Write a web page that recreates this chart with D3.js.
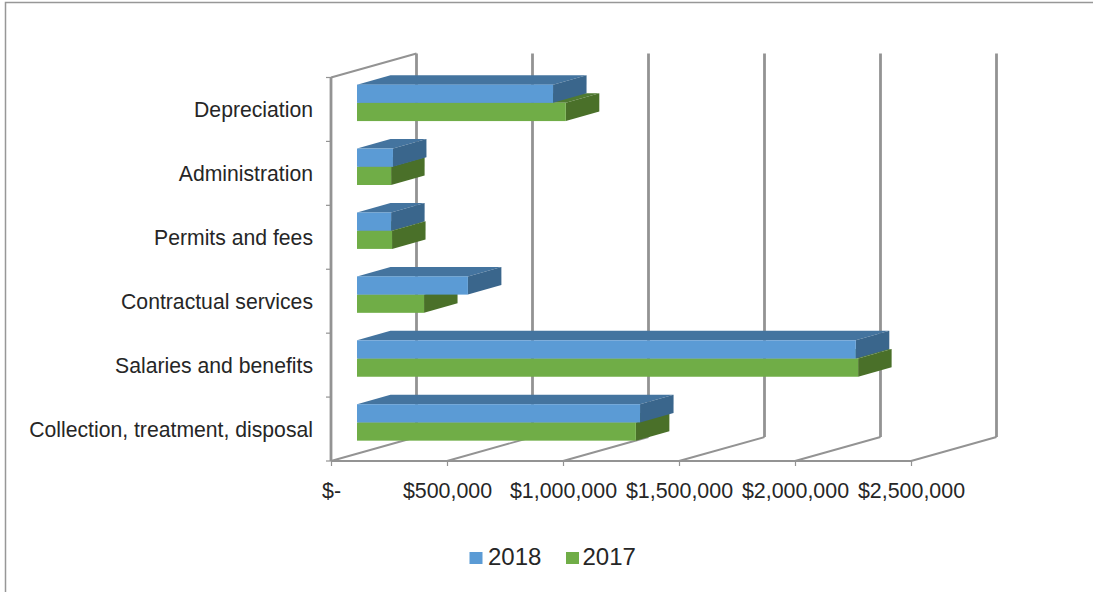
<!DOCTYPE html>
<html><head><meta charset="utf-8">
<script src="https://cdn.jsdelivr.net/npm/d3@7"></script>
<style>html,body{margin:0;padding:0;background:#fff}svg{display:block}text{font-family:"Liberation Sans",Arial,sans-serif;fill:#262626}</style>
</head><body><svg id="c" width="1093" height="592"></svg>
<script>
const categories=["Depreciation","Administration","Permits and fees","Contractual services","Salaries and benefits","Collection, treatment, disposal"];
const series=["2018","2017"];
const values2018=[845000,155000,147000,478000,2150000,1220000];
const values2017=[900000,147000,151000,289000,2160000,1202000];
const xTicks=[0,500000,1000000,1500000,2000000,2500000];
const colors={"2018":{front:"#5b9bd5",top:"#44749f",side:"#3a668c"},"2017":{front:"#70ad47",top:"#4f7a31",side:"#4a7029"}};
const grid="#939393";
const svg=d3.select("#c");
// frame
svg.append("path").attr("d","M5.5,592V2.5H1093").attr("fill","none").attr("stroke","#979797").attr("stroke-width",1.5);
const x=d3.scaleLinear().domain([0,2500000]).range([331,911]);
const y=d3.scaleBand().domain(categories).range([77.5,461]).paddingInner(0.43).paddingOuter(0.215);
const y1=d3.scaleBand().domain(series).range([0,y.bandwidth()]);
const step=y.step();
const depthX=85.5,depthY=-24;         // full floor depth
const startX=26,startY=-6.6;          // front of the bars within the depth
const barDX=33.5,barDY=-9.5;          // depth of the bars
// back wall + floor
const g=svg.append("g").attr("fill","none").attr("stroke",grid);
xTicks.forEach(t=>{
  const px=x(t);
  g.append("line").attr("x1",px).attr("y1",461).attr("x2",px+depthX).attr("y2",461+depthY).attr("stroke-width",1.9);
  g.append("line").attr("x1",px+depthX).attr("y1",461+depthY).attr("x2",px+depthX).attr("y2",77.5+depthY).attr("stroke-width",2.8);
});
g.append("line").attr("x1",331).attr("y1",77.5).attr("x2",331+depthX).attr("y2",77.5+depthY).attr("stroke-width",1.9);
g.append("line").attr("x1",331).attr("y1",77.5).attr("x2",331).attr("y2",461).attr("stroke-width",2.8);
g.append("line").attr("x1",331).attr("y1",461).attr("x2",911).attr("y2",461).attr("stroke-width",2.2);
// axis ticks
d3.range(categories.length+1).forEach(i=>{
  const py=77.5+i*step;
  g.append("line").attr("x1",326).attr("x2",331).attr("y1",py).attr("y2",py).attr("stroke-width",1.2);
});
// bottom axis
const axis=d3.axisBottom(x).tickValues(xTicks).tickSize(5).tickPadding(17)
  .tickFormat(d=>d===0?"$-":"$"+d3.format(",")(d));
const ax=svg.append("g").attr("transform","translate(0,461)").call(axis);
ax.select(".domain").remove();
ax.selectAll("line").attr("stroke",grid).attr("stroke-width",1.2);
ax.selectAll("text").attr("font-size",21.4).attr("fill","#262626").attr("font-family","Liberation Sans");
// category labels
svg.append("g").selectAll("text").data(categories).join("text")
  .attr("x",313).attr("y",d=>y(d)+y.bandwidth()/2+0.6).attr("dy","0.35em")
  .attr("text-anchor","end").attr("font-size",21.2).text(d=>d);
// bars
const rows=categories.map((c,i)=>({c,"2018":values2018[i],"2017":values2017[i]}));
const pts=a=>a.map(p=>p.join(",")).join(" ");
const marks=svg.append("g");
rows.forEach(r=>{
  ["2017","2018"].forEach(s=>{
    const x0=x(0)+startX, x1=x(r[s])+startX;
    const t=y(r.c)+y1(s)+startY, b=t+y1.bandwidth();
    const col=colors[s];
    marks.append("polygon").attr("fill",col.top).attr("points",pts([[x0,t],[x1,t],[x1+barDX,t+barDY],[x0+barDX,t+barDY]]));
    marks.append("polygon").attr("fill",col.side).attr("points",pts([[x1,t],[x1+barDX,t+barDY],[x1+barDX,b+barDY],[x1,b]]));
    marks.append("rect").attr("fill",col.front).attr("x",x0).attr("y",t).attr("width",x1-x0).attr("height",b-t);
  });
});
// legend
const lg=svg.append("g");
[["2018",469.5,488],["2017",566,582.5]].forEach(([s,sx,tx])=>{
  lg.append("rect").attr("x",sx).attr("y",552).attr("width",13).attr("height",12).attr("fill",colors[s].front);
  lg.append("text").attr("x",tx).attr("y",565).attr("font-size",24).text(s);
});
</script></body></html>
